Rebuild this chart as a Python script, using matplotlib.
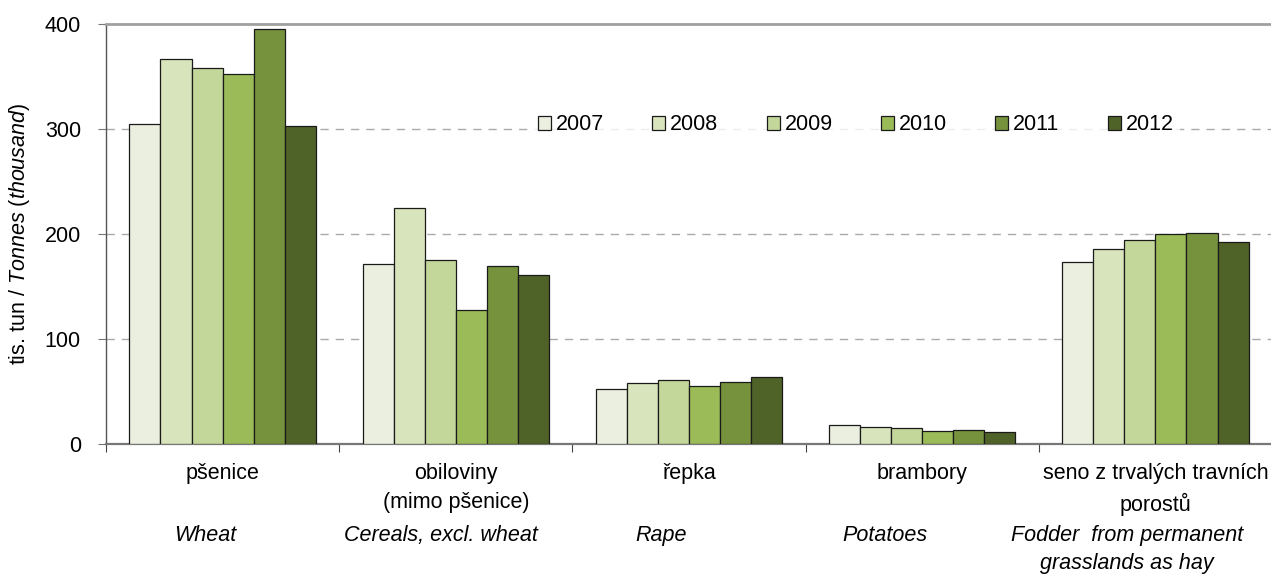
import matplotlib
matplotlib.use("Agg")
import matplotlib.pyplot as plt
from matplotlib.patches import Patch
import numpy as np

plt.rcParams['font.family'] = ['Liberation Sans', 'DejaVu Sans']
plt.rcParams['mathtext.fontset'] = 'custom'
plt.rcParams['mathtext.rm'] = 'Liberation Sans'
plt.rcParams['mathtext.it'] = 'Liberation Sans:italic'

categories_cz = ["pšenice", "obiloviny\n(mimo pšenice)", "řepka", "brambory",
                 "seno z trvalých travních\nporostů"]
categories_en = ["Wheat", "Cereals, excl. wheat", "Rape", "Potatoes",
                 "Fodder  from permanent\ngrasslands as hay"]
years = ["2007", "2008", "2009", "2010", "2011", "2012"]
values = {
    "2007": [305, 171, 52, 18.5, 173],
    "2008": [367, 225, 58, 16.5, 186],
    "2009": [358, 175, 60.5, 15.5, 194],
    "2010": [352, 128, 55, 12, 200],
    "2011": [395, 170, 59.5, 13, 201],
    "2012": [303, 161, 64, 11, 192],
}
colors = ["#EBEFDF", "#D8E4BC", "#C4D79B", "#9BBB59", "#76923C", "#4F6228"]
yticks = [0, 100, 200, 300, 400]

FS = 15.5
W, H = 1271, 575
fig = plt.figure(figsize=(W / 100, H / 100), dpi=100)
ax = fig.add_axes([106 / W, 1 - 444 / H, 1166 / W, 420 / H])

n = len(years)
x = np.arange(len(categories_cz))
group_w = 0.8
bw = group_w / n
handles = []
for i, (yr, c) in enumerate(zip(years, colors)):
    ax.bar(x - group_w / 2 + bw * (i + 0.5), values[yr], width=bw, color=c,
           edgecolor="#1a1a1a", linewidth=0.9, zorder=3)
    handles.append(Patch(facecolor=c, edgecolor="#1a1a1a", linewidth=0.9, label=yr))

ax.set_xlim(-0.5, len(categories_cz) - 0.5)
ax.set_ylim(0, 400)
ax.set_yticks(yticks)
ax.set_yticklabels([str(v) for v in yticks], fontsize=FS)
for v in yticks[1:-1]:
    ax.axhline(v, color="#AAAAAA", linewidth=1.0, linestyle=(0, (6, 5)), zorder=1)

ax.set_xticks(np.arange(len(categories_cz) + 1) - 0.5)
ax.set_xticklabels([])
ax.set_xticks(x, minor=True)
ax.set_xticklabels(categories_cz, minor=True, fontsize=FS, linespacing=1.45, va="top")
ax.tick_params(axis="x", which="minor", length=0, pad=14)
ax.tick_params(axis="x", which="major", length=6, direction="out", color="#444444")
ax.tick_params(axis="y", length=6, direction="out", color="#777777", pad=12)

ax.spines["right"].set_visible(False)
ax.spines["top"].set_color("#A0A0A0")
ax.spines["top"].set_linewidth(2)
ax.spines["left"].set_color("#555555")
ax.spines["left"].set_linewidth(1.0)
ax.spines["bottom"].set_color("#777777")
ax.spines["bottom"].set_linewidth(1.6)

ax.set_ylabel(r"tis. tun / $\it{Tonnes\ (thousand)}$", fontsize=FS, labelpad=9)

en_x = [205, 441, 661, 885, 1127]
for label, px in zip(categories_en, en_x):
    fig.text(px / W, 1 - 525 / H, label, fontsize=FS, style="italic",
             ha="center", va="top", linespacing=1.45)

leg = ax.legend(handles=handles, ncol=6, loc="center", bbox_to_anchor=(0.643, 0.76),
                frameon=True, fancybox=False, fontsize=FS, handlelength=0.6,
                handleheight=0.6, handletextpad=0.23, columnspacing=2.25,
                borderpad=0.3)
leg.get_frame().set_facecolor("white")
leg.get_frame().set_edgecolor("none")
leg.set_zorder(5)

fig.savefig("out.png", dpi=100)
